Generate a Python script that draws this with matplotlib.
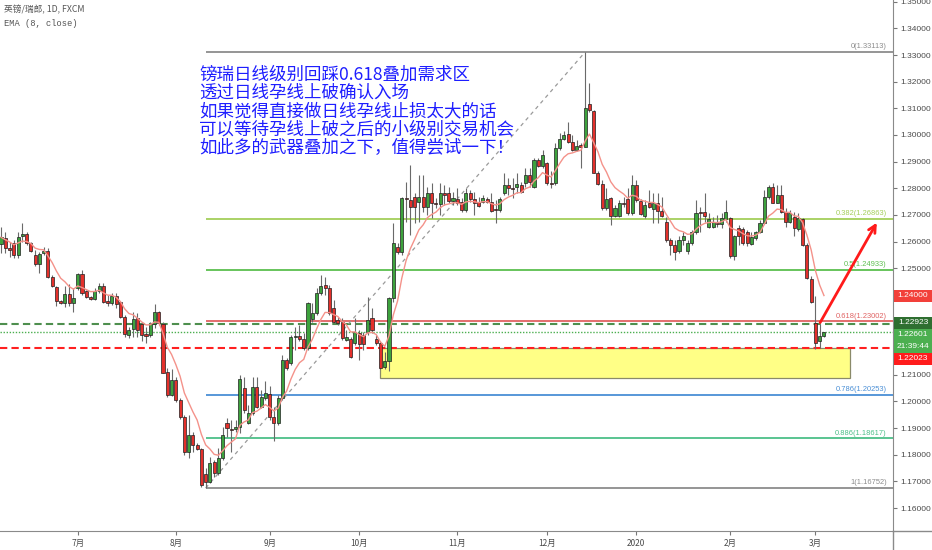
import numpy as np
import pandas as pd
import matplotlib
matplotlib.use("Agg")
import matplotlib.pyplot as plt
from matplotlib.patches import Rectangle
from matplotlib.lines import Line2D
from matplotlib.transforms import blended_transform_factory

plt.rcParams['font.family'] = ['Noto Sans CJK SC', 'DejaVu Sans']

# ---------------- data (GBP/CHF daily) ----------------
opens = [1.2591, 1.2612, 1.2575, 1.2594, 1.2550, 1.2622, 1.2628, 1.2594, 1.2550, 1.2515,
         1.2556, 1.2565, 1.2466, 1.2431, 1.2378, 1.2368, 1.2402, 1.2371, 1.2425, 1.2477,
         1.2415, 1.2393, 1.2384, 1.2415, 1.2433, 1.2378, 1.2368, 1.2396, 1.2375, 1.2318,
         1.2250, 1.2271, 1.2312, 1.2291, 1.2252, 1.2250, 1.2290, 1.2335, 1.2291, 1.2112,
         1.2024, 1.2081, 1.2006, 1.1943, 1.1812, 1.1874, 1.1837, 1.1822, 1.1728, 1.1697,
         1.1772, 1.1731, 1.1787, 1.1918, 1.1897, 1.1897, 1.1906, 1.2050, 1.1921, 1.1956,
         1.2056, 1.1981, 1.2012, 1.2028, 1.1943, 1.1918, 1.2012, 1.2156, 1.2143, 1.2240,
         1.2246, 1.2233, 1.2202, 1.2308, 1.2331, 1.2406, 1.2437, 1.2427, 1.2350, 1.2306,
         1.2300, 1.2231, 1.2233, 1.2218, 1.2258, 1.2250, 1.2262, 1.2312, 1.2233, 1.2218,
         1.2128, 1.2150, 1.2387, 1.2581, 1.2559, 1.2765, 1.2756, 1.2769, 1.2747, 1.2769,
         1.2729, 1.2784, 1.2746, 1.2741, 1.2784, 1.2784, 1.2754, 1.2759, 1.2747, 1.2719,
         1.2784, 1.2759, 1.2750, 1.2750, 1.2759, 1.2750, 1.2722, 1.2719, 1.2781, 1.2812,
         1.2800, 1.2803, 1.2812, 1.2819, 1.2850, 1.2806, 1.2906, 1.2884, 1.2894, 1.2821,
         1.2819, 1.2950, 1.2984, 1.3004, 1.2975, 1.2944, 1.2963, 1.2956, 1.3116, 1.3090,
         1.2859, 1.2816, 1.2725, 1.2765, 1.2697, 1.2697, 1.2746, 1.2759, 1.2706, 1.2813,
         1.2753, 1.2697, 1.2744, 1.2721, 1.2746, 1.2713, 1.2675, 1.2606, 1.2587, 1.2566,
         1.2606, 1.2566, 1.2594, 1.2634, 1.2712, 1.2712, 1.2656, 1.2656, 1.2671, 1.2665,
         1.2684, 1.2687, 1.2546, 1.2650, 1.2646, 1.2634, 1.2591, 1.2612, 1.2637, 1.2671,
         1.2766, 1.2806, 1.2746, 1.2775, 1.2712, 1.2675, 1.2691, 1.2646, 1.2684, 1.2587,
         1.2459, 1.2294, 1.2225, 1.2246]
highs = [1.2656, 1.2637, 1.2600, 1.2606, 1.2637, 1.2671, 1.2637, 1.2600, 1.2568, 1.2562,
         1.2581, 1.2575, 1.2475, 1.2433, 1.2381, 1.2433, 1.2441, 1.2425, 1.2481, 1.2493,
         1.2418, 1.2396, 1.2425, 1.2443, 1.2443, 1.2400, 1.2406, 1.2406, 1.2378, 1.2325,
         1.2281, 1.2337, 1.2331, 1.2300, 1.2281, 1.2300, 1.2366, 1.2341, 1.2299, 1.2124,
         1.2121, 1.2093, 1.2012, 1.1949, 1.1949, 1.1887, 1.1843, 1.1824, 1.1749, 1.1793,
         1.1781, 1.1825, 1.1906, 1.1937, 1.1931, 1.1931, 1.2100, 1.2093, 1.1987, 1.2093,
         1.2093, 1.2043, 1.2075, 1.2058, 1.1981, 1.2025, 1.2175, 1.2162, 1.2250, 1.2281,
         1.2287, 1.2256, 1.2375, 1.2368, 1.2425, 1.2475, 1.2468, 1.2437, 1.2381, 1.2318,
         1.2312, 1.2268, 1.2241, 1.2312, 1.2268, 1.2262, 1.2393, 1.2350, 1.2250, 1.2225,
         1.2187, 1.2393, 1.2671, 1.2596, 1.2769, 1.2825, 1.2887, 1.2781, 1.2850, 1.2850,
         1.2806, 1.2819, 1.2762, 1.2819, 1.2812, 1.2806, 1.2787, 1.2800, 1.2762, 1.2800,
         1.2794, 1.2787, 1.2769, 1.2775, 1.2769, 1.2781, 1.2756, 1.2769, 1.2856, 1.2837,
         1.2837, 1.2859, 1.2825, 1.2875, 1.2875, 1.2913, 1.2913, 1.2944, 1.2900, 1.2863,
         1.2969, 1.3006, 1.3013, 1.3050, 1.3000, 1.2981, 1.2969, 1.33113, 1.3194, 1.3094,
         1.2866, 1.2831, 1.2800, 1.2769, 1.2738, 1.2756, 1.2769, 1.2800, 1.2850, 1.2831,
         1.2759, 1.2756, 1.2794, 1.2781, 1.2781, 1.2769, 1.2694, 1.2612, 1.2606, 1.2619,
         1.2637, 1.2606, 1.2644, 1.2756, 1.2731, 1.2781, 1.2706, 1.2694, 1.2700, 1.2706,
         1.2756, 1.2694, 1.2625, 1.2662, 1.2656, 1.2644, 1.2637, 1.2641, 1.2681, 1.2794,
         1.2812, 1.2819, 1.2812, 1.2812, 1.2725, 1.2719, 1.2712, 1.2706, 1.2687, 1.2594,
         1.2469, 1.2394, 1.2291, 1.2262]
lows = [1.2556, 1.2556, 1.2543, 1.2537, 1.2537, 1.2600, 1.2587, 1.2562, 1.2508, 1.2483,
        1.2550, 1.2462, 1.2431, 1.2358, 1.2366, 1.2356, 1.2358, 1.2337, 1.2418, 1.2400,
        1.2387, 1.2381, 1.2381, 1.2406, 1.2371, 1.2358, 1.2362, 1.2350, 1.2312, 1.2243,
        1.2237, 1.2243, 1.2243, 1.2225, 1.2221, 1.2243, 1.2275, 1.2287, 1.2106, 1.2018,
        1.2022, 1.1999, 1.1933, 1.1799, 1.1787, 1.1812, 1.1818, 1.1680, 1.16752, 1.1693,
        1.1718, 1.1725, 1.1781, 1.1868, 1.1812, 1.1887, 1.1881, 1.1956, 1.1916, 1.1950,
        1.1975, 1.1975, 1.2006, 1.1931, 1.1850, 1.1912, 1.2006, 1.2118, 1.2137, 1.2193,
        1.2225, 1.2193, 1.2193, 1.2300, 1.2325, 1.2400, 1.2400, 1.2325, 1.2293, 1.2287,
        1.2231, 1.2225, 1.2162, 1.2212, 1.2156, 1.2193, 1.2250, 1.2258, 1.2212, 1.2121,
        1.2121, 1.2116, 1.2375, 1.2554, 1.2550, 1.2675, 1.2625, 1.2669, 1.2675, 1.2712,
        1.2700, 1.2687, 1.2725, 1.2700, 1.2737, 1.2744, 1.2737, 1.2737, 1.2712, 1.2712,
        1.2750, 1.2700, 1.2731, 1.2744, 1.2744, 1.2712, 1.2669, 1.2712, 1.2775, 1.2775,
        1.2762, 1.2781, 1.2781, 1.2806, 1.2806, 1.2800, 1.2881, 1.2875, 1.2813, 1.2800,
        1.2813, 1.2944, 1.2981, 1.2969, 1.2938, 1.2938, 1.2875, 1.2954, 1.3088, 1.2856,
        1.2813, 1.2719, 1.2719, 1.2663, 1.2694, 1.2694, 1.2731, 1.2700, 1.2700, 1.2750,
        1.2700, 1.2688, 1.2725, 1.2669, 1.2669, 1.2694, 1.2600, 1.2550, 1.2531, 1.2556,
        1.2587, 1.2553, 1.2587, 1.2628, 1.2637, 1.2675, 1.2650, 1.2650, 1.2656, 1.2650,
        1.2675, 1.2540, 1.2531, 1.2587, 1.2587, 1.2584, 1.2587, 1.2606, 1.2631, 1.2666,
        1.2758, 1.2744, 1.2744, 1.2706, 1.2656, 1.2668, 1.2619, 1.2641, 1.2584, 1.2459,
        1.2369, 1.2196, 1.2200, 1.2241]
closes = [1.2616, 1.2575, 1.2570, 1.2550, 1.2618, 1.2628, 1.2594, 1.2566, 1.2515, 1.2553,
          1.2565, 1.2466, 1.2433, 1.2378, 1.2368, 1.2402, 1.2368, 1.2387, 1.2477, 1.2406,
          1.2393, 1.2385, 1.2415, 1.2433, 1.2375, 1.2368, 1.2396, 1.2365, 1.2318, 1.2253,
          1.2268, 1.2308, 1.2268, 1.2250, 1.2247, 1.2290, 1.2335, 1.2293, 1.2108, 1.2024,
          1.2081, 1.2006, 1.1941, 1.1812, 1.1874, 1.1837, 1.1822, 1.1687, 1.1699, 1.1768,
          1.1731, 1.1787, 1.1875, 1.1900, 1.1893, 1.1906, 1.2085, 1.1968, 1.1956, 1.2056,
          1.1981, 1.2018, 1.2033, 1.1941, 1.1918, 1.2012, 1.2156, 1.2125, 1.2241, 1.2246,
          1.2233, 1.2202, 1.2368, 1.2331, 1.2408, 1.2433, 1.2427, 1.2331, 1.2300, 1.2293,
          1.2237, 1.2241, 1.2168, 1.2262, 1.2216, 1.2216, 1.2306, 1.2268, 1.2221, 1.2125,
          1.2150, 1.2387, 1.2596, 1.2559, 1.2765, 1.2759, 1.2729, 1.2729, 1.2769, 1.2729,
          1.2784, 1.2744, 1.2741, 1.2784, 1.2775, 1.2754, 1.2762, 1.2744, 1.2719, 1.2781,
          1.2759, 1.2744, 1.2734, 1.2762, 1.2750, 1.2716, 1.2719, 1.2759, 1.2812, 1.2800,
          1.2797, 1.2816, 1.2787, 1.2850, 1.2825, 1.2906, 1.2884, 1.2925, 1.2819, 1.2816,
          1.2950, 1.2984, 1.3000, 1.2975, 1.2944, 1.2959, 1.2956, 1.3100, 1.3094, 1.2859,
          1.2816, 1.2725, 1.2759, 1.2697, 1.2725, 1.2746, 1.2740, 1.2706, 1.2813, 1.2756,
          1.2704, 1.2738, 1.2731, 1.2746, 1.2713, 1.2697, 1.2606, 1.2587, 1.2562, 1.2606,
          1.2621, 1.2594, 1.2634, 1.2709, 1.2706, 1.2697, 1.2684, 1.2675, 1.2665, 1.2687,
          1.2712, 1.2546, 1.2621, 1.2621, 1.2594, 1.2594, 1.2616, 1.2637, 1.2671, 1.2766,
          1.2806, 1.2746, 1.2775, 1.2712, 1.2675, 1.2709, 1.2650, 1.2687, 1.2587, 1.2462,
          1.2375, 1.2219, 1.2247, 1.22601]

start_date = '2019-06-05'
end_date = '2020-03-04'
holidays = ['2019-12-25', '2020-01-01']

fib_levels = [0, 0.382, 0.5, 0.618, 0.786, 0.886, 1]
fib_colors = ['#8c8c8c', '#a4cf5b', '#5cbf4f', '#e06262', '#4a8fd6', '#4cbf88', '#8c8c8c']

zone_left, zone_right = 89, 199          # demand zone (bar index)
zone_top, zone_bottom = 1.2199, 1.2088
red_line = 1.22023                       # drawn horizontal line
bid_line = 1.22923                       # green dashed line
last_price = 1.22601
ema_label = 1.24000
countdown = '21:39:44'
arrow_from = (192.1, 1.2296)
arrow_to = (205.4, 1.2671)

note_lines = ['镑瑞日线级别回踩0.618叠加需求区',
              '透过日线孕线上破确认入场',
              '如果觉得直接做日线孕线止损太大的话',
              '可以等待孕线上破之后的小级别交易机会',
              '如此多的武器叠加之下，值得尝试一下！']

# ---------------- figure ----------------
W, H = 932, 550
fig = plt.figure(figsize=(W / 100, H / 100), dpi=100)
fig.patch.set_facecolor('white')
AX_RIGHT = 893
AX_BOTTOM = 531
ax = fig.add_axes([0, (H - AX_BOTTOM) / H, AX_RIGHT / W, AX_BOTTOM / H])
ax.set_facecolor('white')

o = np.array(opens); h = np.array(highs); l = np.array(lows); c = np.array(closes)
x = np.arange(len(c))

dates = pd.bdate_range(start_date, end_date)
dates = dates[~dates.isin(pd.to_datetime(holidays))]

px_per_bar = 4.264
x0 = 1.0
ax.set_xlim(-x0 / px_per_bar, (AX_RIGHT - x0) / px_per_bar)
ax.set_ylim(1.15139, 1.35064)

# demand zone
ax.add_patch(Rectangle((zone_left, zone_bottom), zone_right - zone_left, zone_top - zone_bottom,
                       facecolor='#ffff86', edgecolor='#8a8a6a', lw=0.9, zorder=1))

# horizontal lines
ax.axhline(red_line, color='#ff2020', ls=(0, (3.5, 2)), lw=1.5, zorder=2)
ax.axhline(bid_line, color='#4e8f4e', ls=(0, (3.5, 2)), lw=1.5, zorder=2)
ax.axhline(last_price, color='#4caf50', ls=(0, (1, 1.2)), lw=1.0, zorder=2)

# fibonacci retracement
i_low = int(np.argmin(l)); i_high = int(np.argmax(h))
f_low = l[i_low]; f_high = h[i_high]
xr = ax.get_xlim()[1]
tr = blended_transform_factory(ax.transAxes, ax.transData)
for lev, col in zip(fib_levels, fib_colors):
    p = f_high - lev * (f_high - f_low)
    ax.hlines(p, i_low, xr, color=col, lw=1.3, zorder=2)
    ax.annotate(f'{lev:g}({p + 1e-9:.5f})', xy=(1, p), xycoords=tr, xytext=(-4.5, 1.2),
                textcoords='offset points', ha='right', va='bottom', fontsize=5.4,
                color=col, family='Liberation Sans', zorder=6)
ax.plot([i_low, i_high], [f_low, f_high], color='#9a9a9a', lw=0.9, ls=(0, (3, 3)), zorder=2)

# candles
up = c >= o
body_col = np.where(up, '#3da23d', '#e3302b')
ax.vlines(x, l, h, color='#6a6a6a', lw=0.8, zorder=3)
ax.bar(x, np.maximum(np.abs(c - o), 0.00012), bottom=np.minimum(o, c), width=0.72,
       color=body_col, edgecolor='#202020', linewidth=0.5, zorder=4)

# EMA 8
ema = pd.Series(c).ewm(span=8, adjust=False).mean().values
ax.plot(x, ema, color='#f4928a', lw=1.0, zorder=5)

# arrow
ax.annotate('', xy=arrow_to, xytext=arrow_from,
            arrowprops=dict(arrowstyle='->', color='#ff1a1a', lw=2.0, mutation_scale=13,
                            shrinkA=0, shrinkB=0), zorder=7)

# axes styling
for s in ['top', 'left']:
    ax.spines[s].set_visible(False)
ax.spines['right'].set_color('#8a8a8a')
ax.spines['bottom'].set_color('#8a8a8a')
ax.yaxis.tick_right()
yt = np.round(np.arange(1.16, 1.3501, 0.01), 2)
covered = [1.22, 1.23, 1.24]   # hidden under the price-axis label boxes
ax.set_yticks(yt)
ax.set_yticklabels(['' if any(abs(v - cv) < 1e-9 for cv in covered) else f'{v:.5f}' for v in yt],
                   family='Liberation Sans')
ax.tick_params(axis='y', length=3, color='#777777', labelsize=6, labelcolor='#4a4a4a', pad=2)

mstart = [i for i in range(1, len(dates)) if dates[i].month != dates[i - 1].month]
mlabels = ['2020' if dates[i].month == 1 else f'{dates[i].month}月' for i in mstart]
ax.set_xticks(mstart)
ax.set_xticklabels(mlabels)
ax.tick_params(axis='x', length=3, color='#777777', labelsize=6, labelcolor='#4a4a4a', pad=3)

# extensions of axis lines
fig.add_artist(Line2D([AX_RIGHT / W, 1], [(H - AX_BOTTOM) / H] * 2, color='#8a8a8a', lw=1))
fig.add_artist(Line2D([AX_RIGHT / W] * 2, [0, (H - AX_BOTTOM) / H], color='#8a8a8a', lw=1))

# price-axis label boxes
def axis_box(y_px, text, col):
    bh = 12
    fig.add_artist(Rectangle((AX_RIGHT / W + 0.5 / W, 1 - (y_px + bh / 2) / H), (W - AX_RIGHT) / W,
                             bh / H, facecolor=col, edgecolor='none', zorder=10))
    fig.text((AX_RIGHT + 20) / W, 1 - y_px / H, text, color='white', fontsize=6,
             family='Liberation Sans', ha='center', va='center', zorder=11)

def data_to_px(p):
    return H - ax.transData.transform((0, p))[1]

axis_box(data_to_px(ema[-1]), f'{ema_label:.5f}', '#f2403a')
y_stack = data_to_px(bid_line) - 1
axis_box(y_stack, f'{bid_line:.5f}', '#2f6f31')
axis_box(y_stack + 12, f'{last_price:.5f}', '#4caf50')
axis_box(y_stack + 24, countdown, '#4caf50')
axis_box(y_stack + 36, f'{red_line:.5f}', '#ff1c1c')

# legend text
fig.text(4 / W, 1 - 10 / H, '英镑/瑞郎, 1D, FXCM', fontsize=6.3, color='#555555', va='center')
fig.text(4 / W, 1 - 23 / H, 'EMA (8, close)', fontsize=6.3, color='#555555', va='center',
         family='Liberation Mono')

# annotation
for k, line in enumerate(note_lines):
    fig.text(199 / W, 1 - (74.5 + 18.3 * k) / H, line, fontsize=12.6, color='#1e1eff',
             va='center', ha='left')

fig.savefig('out.png', dpi=100, facecolor='white')
